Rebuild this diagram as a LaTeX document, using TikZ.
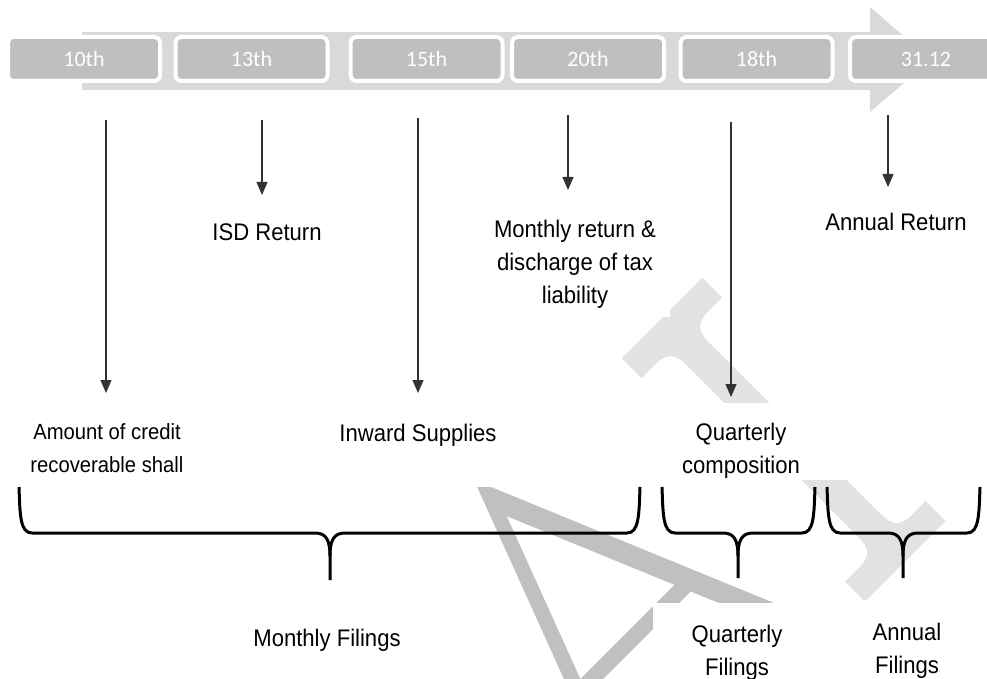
\documentclass[tikz,border=0pt]{standalone}
\usepackage{fontspec}
\newfontfamily\lblfont[FakeStretch=0.92]{Liberation Sans}
\newfontfamily\datefont{Carlito}
\usetikzlibrary{arrows.meta}

\definecolor{bandgray}{HTML}{D9D9D9}
\definecolor{boxgray}{HTML}{BFBFBF}
\definecolor{markdark}{HTML}{C0C0C0}
\definecolor{marklight}{HTML}{E2E2E2}

\begin{document}
\begin{tikzpicture}[x=1pt,y=-1pt,
  datebox/.style={draw=white, line width=4pt, fill=boxgray, rounded corners=6pt,
    minimum width=152pt, minimum height=44pt, inner sep=0pt,
    font=\datefont\fontsize{22}{26}\selectfont, text=white},
  lbl/.style={align=center, inner sep=0pt, font=\lblfont\fontsize{24}{33}\selectfont},
  smalllbl/.style={align=center, inner sep=0pt, font=\lblfont\fontsize{22}{33}\selectfont},
  conn/.style={draw=black!80, line width=1.1pt, -{Triangle[length=13pt,width=11pt]}},
  brace/.style={draw=black, line width=3pt}]

\useasboundingbox (0,0) rectangle (987,679);
\clip (0,0) rectangle (987,679);
\fill[white] (0,0) rectangle (987,679);

% background watermark letters
\begin{scope}[shift={(474,480)}, x={(0.7071pt,0.7071pt)}, y={(0.7071pt,-0.7071pt)}]
  \fill[markdark, even odd rule]
    (0,0) -- (-158.6,420) -- (175.8,420) -- cycle
    (-2.4,48.7) -- (-65.5,216) -- (67.7,216) -- cycle
    (-71.6,232) -- (-142.5,420) -- (153.1,420) -- (74.4,232) -- cycle;
\end{scope}
\begin{scope}[shift={(662,318)}, x={(0.7071pt,0.7071pt)}, y={(0.7071pt,-0.7071pt)}]
  \fill[marklight] (-57,0) -- (57,0) -- (57,28) -- (38,28)
    .. controls (22,28) and (16,34) .. (16,50) -- (16,294)
    .. controls (16,310) and (22,316) .. (38,316) -- (57,316) -- (57,344)
    -- (-57,344) -- (-57,316) -- (-38,316)
    .. controls (-22,316) and (-16,310) .. (-16,294) -- (-16,50)
    .. controls (-16,34) and (-22,28) .. (-38,28) -- (-57,28) -- cycle;
\end{scope}

% text frames laid over the watermark
\fill[white] (330,405) rectangle (520,487);
\fill[white] (480,200) rectangle (670,317);
\fill[white] (620,403) rectangle (850,480);
\fill[white] (653,603) rectangle (845,679);
\fill[white] (845,600) rectangle (987,679);

% timeline arrow
\fill[bandgray] (82,32) rectangle (872,90);
\fill[bandgray] (870,7) -- (931,60) -- (870,112) -- cycle;

\node[datebox] (d10) at (84,59) {10th};
\node[datebox] (d13) at (251.5,59) {13th};
\node[datebox] (d15) at (426.5,59) {15th};
\node[datebox] (d20) at (588,59) {20th};
\node[datebox] (d18) at (756.5,59) {18th};
\node[datebox] (d3112) at (926,59) {31.12};

% labels
\node[smalllbl] (credit) at (107,448.5) {Amount of credit\\recoverable shall};
\node[lbl] (isd) at (267,232) {ISD Return};
\node[lbl] (inward) at (418,435) {Inward Supplies};
\node[lbl] (monthret) at (575,264) {Monthly return \&\\discharge of tax\\liability};
\node[lbl] (annret) at (896,222) {Annual Return};
\node[lbl] (qcomp) at (741,451) {Quarterly\\composition};
\node[lbl] (mfil) at (327,640) {Monthly Filings};
\node[lbl] (qfil) at (737,653) {Quarterly\\Filings};
\node[lbl] (afil) at (907,651) {Annual\\Filings};

% date arrows
\coordinate (a1s) at (106,120);   \coordinate (a1e) at (106,393);
\coordinate (a2s) at (262,120);   \coordinate (a2e) at (262,195);
\coordinate (a3s) at (418,118);   \coordinate (a3e) at (418,393);
\coordinate (a4s) at (568,115);   \coordinate (a4e) at (568,190);
\coordinate (a5s) at (731,122);   \coordinate (a5e) at (731,397);
\coordinate (a6s) at (888,115);   \coordinate (a6e) at (888,187);
\draw[conn] (a1s) -- (a1e);
\draw[conn] (a2s) -- (a2e);
\draw[conn] (a3s) -- (a3e);
\draw[conn] (a4s) -- (a4e);
\draw[conn] (a5s) -- (a5e);
\draw[conn] (a6s) -- (a6e);

% grouping braces
\draw[brace] (19,487) .. controls (20,515) and (20,533) .. (32,533) -- (315,533)
  .. controls (326,533) and (330,540) .. (330,556) -- (330,580);
\draw[brace] (640,487) .. controls (639,515) and (639,533) .. (627,533) -- (345,533)
  .. controls (334,533) and (330,540) .. (330,556);

\draw[brace] (662,487) .. controls (663,515) and (663,533) .. (675,533) -- (723,533)
  .. controls (734,533) and (738,540) .. (738,556) -- (738,578);
\draw[brace] (815,487) .. controls (814,515) and (814,533) .. (802,533) -- (753,533)
  .. controls (742,533) and (738,540) .. (738,556);

\draw[brace] (827,487) .. controls (828,515) and (828,533) .. (840,533) -- (888,533)
  .. controls (899,533) and (903,540) .. (903,556) -- (903,578);
\draw[brace] (980,487) .. controls (979,515) and (979,533) .. (967,533) -- (918,533)
  .. controls (907,533) and (903,540) .. (903,556);
\end{tikzpicture}
\end{document}
